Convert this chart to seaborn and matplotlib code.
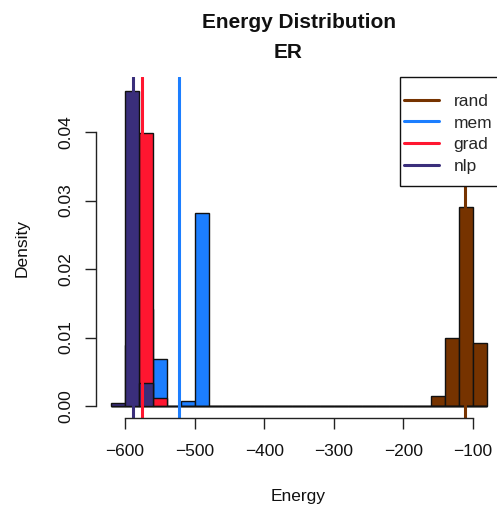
import numpy as np
import pandas as pd
import matplotlib
matplotlib.use("Agg")
import matplotlib.pyplot as plt
from matplotlib.lines import Line2D
from matplotlib.patches import Rectangle
import seaborn as sns

# ---- data (density histograms, bin width 20) ----
series_names = ["rand", "mem", "grad", "nlp"]
series_colors = ["#763300", "#1C7EFF", "#FF1630", "#3A2E7B"]

rand_left = [-160, -140, -120, -100]
rand_density = [0.00146, 0.0100, 0.0290, 0.0092]

mem_left = [-580, -560, -520, -500]
mem_density = [0.0142, 0.0069, 0.0007, 0.0282]

grad_left = [-600, -580, -560]
grad_density = [0.0089, 0.0399, 0.0012]

nlp_left = [-620, -600, -580]
nlp_density = [0.0004, 0.0460, 0.0034]

means = [-111.5, -522.0, -575.6, -588.0]

bin_width = 20
bin_start, bin_end = -620, -80
x_ticks = [-600, -500, -400, -300, -200, -100]
y_ticks = [0.00, 0.01, 0.02, 0.03, 0.04]
y_tick_labels = ["0.00", "0.01", "0.02", "0.03", "0.04"]

title_line1 = "Energy Distribution"
title_line2 = "ER"
x_label = "Energy"
y_label = "Density"

# ---- style ----
sns.set_style("white")
plt.rcParams["font.family"] = ["Liberation Sans", "DejaVu Sans"]
plt.rcParams["axes.linewidth"] = 1.0

W, H = 497, 507
fig = plt.figure(figsize=(W / 100, H / 100), dpi=100)
ax_l, ax_r, ax_t, ax_b = 96, 502, 77, 418
ax_w, ax_h = ax_r - ax_l, ax_b - ax_t
ax = fig.add_axes([ax_l / W, (H - ax_b) / H, ax_w / W, ax_h / H])

def afx(px):
    return (px - ax_l) / ax_w

def afy(py):
    return 1 - (py - ax_t) / ax_h

lefts = [rand_left, mem_left, grad_left, nlp_left]
dens = [rand_density, mem_density, grad_density, nlp_density]

for name, col, lf, dn, mu in zip(series_names, series_colors, lefts, dens, means):
    df = pd.DataFrame({"x": np.array(lf, dtype=float) + bin_width / 2,
                       "w": np.array(dn, dtype=float)})
    sns.histplot(data=df, x="x", weights="w", binwidth=bin_width,
                 binrange=(bin_start, bin_end), stat="count",
                 color=col, alpha=1.0, edgecolor="#111111", linewidth=1.0,
                 ax=ax)
    ax.axvline(mu, color=col, linewidth=2.2)

ax.set_xlim(-641.7, -58.3)
ax.set_ylim(-0.00175, 0.04803)

for s in ["top", "right"]:
    ax.spines[s].set_visible(False)
ax.spines["left"].set_bounds(0, 0.04)
ax.spines["bottom"].set_bounds(-600, -100)
ax.spines["left"].set_color("#222222")
ax.spines["bottom"].set_color("#222222")

ax.set_xticks(x_ticks)
ax.set_xticklabels([("\u2212%d" % abs(v)) for v in x_ticks])
ax.set_yticks(y_ticks)
ax.set_yticklabels(y_tick_labels, rotation=90, va="center")
ax.tick_params(axis="both", which="both", direction="out", length=8,
               width=1.0, color="#222222", labelsize=12.5, labelcolor="#111111",
               left=True, bottom=True)
ax.tick_params(axis="x", pad=11)
ax.tick_params(axis="y", pad=8)

ax.set_xlabel("")
ax.set_ylabel("")
fig.text(298 / W, 1 - 497 / H, x_label, ha="center", va="center", fontsize=12.5, color="#111111")
fig.text(22 / W, 1 - 248 / H, y_label, ha="center", va="center", rotation=90,
         fontsize=12.5, color="#111111")

fig.text(299 / W, 1 - 28 / H, title_line1, ha="center", va="baseline",
         fontsize=15, fontweight="bold", color="#111111")
fig.text(288.5 / W, 1 - 58 / H, title_line2, ha="center", va="baseline",
         fontsize=15, fontweight="bold", color="#111111")

# legend frame (R-style, top right of plot region)
frame = Rectangle((afx(400), afy(186)), afx(503) - afx(400), afy(76.5) - afy(186),
                  transform=ax.transAxes, facecolor="white", edgecolor="#111111",
                  linewidth=1.0, zorder=9, clip_on=False)
ax.add_patch(frame)

handles = [Line2D([0], [0], color=c, linewidth=2.2) for c in series_colors]
leg = ax.legend(handles, series_names, loc="upper left",
                bbox_to_anchor=(afx(404), afy(93.5)),
                borderaxespad=0.0, borderpad=0.0, frameon=False,
                fontsize=12.5, handlelength=2.0, handletextpad=0.86,
                labelspacing=0.39)
leg.set_zorder(10)

fig.savefig("out.png", dpi=100)
